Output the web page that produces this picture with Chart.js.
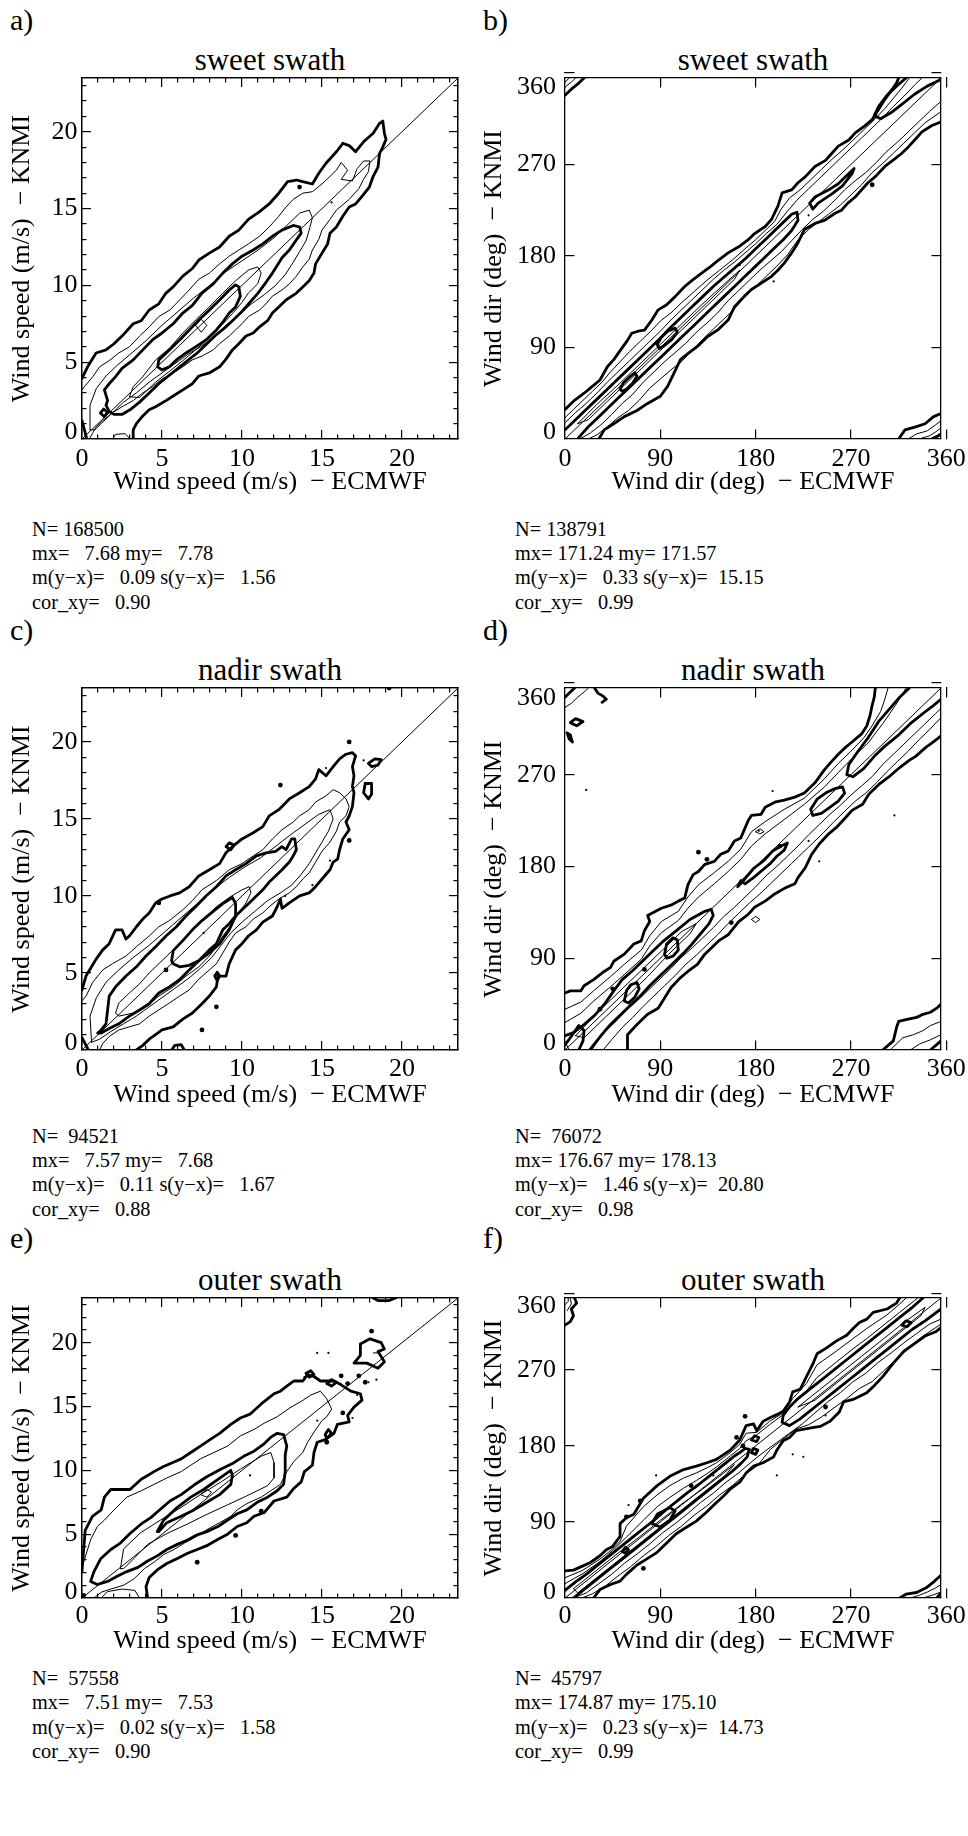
<!DOCTYPE html>
<html><head><meta charset="utf-8"><title>KNMI vs ECMWF wind contours</title>
<script src="https://cdn.jsdelivr.net/npm/chart.js"></script>
<style>
html,body{margin:0;padding:0;background:#fff;}
body{width:968px;height:1836px;position:relative;overflow:hidden;font-family:'Liberation Serif','Times New Roman',Times,serif;color:#000;}
canvas{position:absolute;}
.plbl,.ptitle,.stats{position:absolute;white-space:pre;}
.plbl{font-size:30px;line-height:30px;}
.ptitle{font-size:31px;line-height:31px;text-align:center;}
.stats{font-size:20.3px;}
</style></head><body>
<script>
const FONT = "'Liberation Serif','Times New Roman',Times,serif";

// ---------- tick values and labels ----------
const speedMajor = [0, 5, 10, 15, 20];
const speedMinor = [1,2,3,4,6,7,8,9,11,12,13,14,16,17,18,19,21,22,23];
const speedXLabels = ['0','5','10','15','20'];
const speedYTicks = [0.45, 5, 10, 15, 20];
const speedYLabels = ['0','5','10','15','20'];
const speedYMarks = [0,1,1,1,1];
const dirXTicks = [0, 90, 180, 270, 360];
const dirXLabels = ['0','90','180','270','360'];
const dirYTicks = [7, 90, 180, 270, 345.5, 360];
const dirYLabels = ['0','90','180','270','360',''];
const dirYMarks = [0,1,1,1,0,1];
const dirMarks = [90, 180, 270, 360];
const speedDiag = [[0,0],[23.5,23.5]];
const dirDiag = [[0,0],[355,355]];

// ---------- panel a : sweet swath, speed ----------
const a_c1 = [[0,3.95],[0.35,4.7],[0.88,5.6],[1.5,5.8],[2,6.2],[2.5,6.7],[3.2,7.5],[3.7,7.7],[4.2,8.4],[4.8,8.8],[5.25,9.5],[5.7,9.9],[6.3,10.6],[6.9,11.1],[7.3,11.65],[7.96,12.1],[8.6,12.5],[9.2,13.2],[9.8,13.6],[10.4,14.3],[11.1,14.8],[11.7,15.3],[12.3,16],[12.85,16.75],[13.4,16.86],[13.8,16.75],[14.4,16.6],[14.8,17.3],[15.25,17.95],[15.9,18.7],[16.3,19.25],[16.7,19.1],[17.1,18.7],[17.65,19.4],[18.2,19.9],[18.6,20.55],[18.8,20.7],[18.9,19.9],[19,19.5],[18.8,19],[18.6,18.6],[18.5,17.7],[18.2,17.1],[17.96,16.4],[17.5,15.8],[17.1,15.3],[16.7,15.1],[16.3,14.5],[15.9,13.8],[15.5,13.4],[15.35,12.7],[15,12.1],[14.6,11.4],[14.5,10.8],[14.2,10.3],[13.8,9.9],[13.4,9.5],[12.75,9.05],[12.3,8.6],[11.9,8.2],[11.6,7.7],[11.1,7.3],[10.7,6.9],[10.25,6.7],[9.8,6.2],[9.4,5.8],[9,5.2],[8.6,4.7],[7.96,4.3],[7.3,4.1],[6.9,3.6],[6.3,3.2],[5.7,2.8],[5.25,2.5],[4.6,2.1],[4.2,1.9],[3.8,1.5],[3.4,1],[3.2,0.6],[3.2,0]];
const a_c2 = [[0,3.2],[0.14,3.4],[0.67,4.05],[1.1,4.7],[1.7,5.1],[2.3,5.6],[2.96,6],[3.6,6.7],[4.2,7.3],[4.8,7.97],[5.5,8.4],[6.1,9.05],[6.7,9.7],[7.3,10.4],[7.96,10.8],[8.6,11.4],[9.2,11.9],[9.8,12.3],[10.4,12.7],[11.1,13.2],[11.7,13.8],[12.3,14.5],[12.75,15.1],[13.2,15.6],[13.8,16],[14.4,16.1],[15,16.6],[15.5,17.1],[15.9,17.5],[16.2,18],[16.6,17.5],[16.2,16.9],[16.9,16.8],[17.2,17.6],[17.6,18.1],[18,18.1],[17.9,17.4],[17.6,16.9],[17.3,16.3],[16.7,15.6],[15.9,14.9],[15.5,14.3],[15,13.6],[14.8,13],[14.4,12.3],[14.2,11.7],[13.8,11.2],[13.4,10.6],[12.96,10.1],[12.5,9.7],[11.9,9.3],[11.5,8.8],[11.1,8.4],[10.4,7.97],[10,7.5],[9.6,7.1],[9.2,6.7],[8.6,6.2],[8.2,5.8],[7.5,5.4],[6.9,5.15],[6.3,4.7],[5.7,4.3],[5,3.9],[4.4,3.4],[3.8,3],[3.2,2.5],[2.5,2.1],[1.9,1.7],[1.3,1.2],[0.9,0.8],[0.67,0.4],[0.46,0]];
const a_c2b = [[0.5,0.6],[0.5,2.2],[0.9,3.3],[1.5,4.1],[2.2,4.8],[3,5.5],[4,6.4],[5,7.4],[6,8.3],[7,9.2],[8,10],[9,10.9],[10,11.6],[11,12.3],[12,13.1],[12.8,13.9],[13.6,14.7],[14.2,14.9],[14.4,14.4],[14.2,13.6],[14,12.9],[13.6,12.2],[13.2,11.5],[12.7,10.7],[12.1,10],[11.4,9.4],[10.6,8.8],[9.8,8.1],[9,7.4],[8.2,6.6],[7.4,6],[6.6,5.5],[5.8,4.9],[5,4.3],[4.2,3.7],[3.4,3],[2.6,2.4],[1.9,1.7],[1.3,1.1],[0.8,0.6],[0.5,0.6]];
const a_c3 = [[1.6,2.5],[1.4,3.2],[1.7,3.6],[2.1,4.06],[2.5,4.6],[3.2,5.15],[3.8,5.8],[4.4,6.45],[5,6.9],[5.7,7.5],[6.3,8.2],[6.9,8.7],[7.5,9.5],[8.2,10.1],[8.8,10.8],[9.4,11.4],[10,11.9],[10.7,12.3],[11.3,12.7],[11.9,13.2],[12.5,13.6],[13.2,13.9],[13.6,13.8],[13.7,13.4],[13.4,12.96],[12.96,12.3],[12.5,11.8],[12.2,11.3],[11.9,10.8],[11.5,10.2],[11,9.5],[10.5,8.9],[10,8.3],[9.5,7.8],[9,7.3],[8.4,6.8],[7.8,6.2],[7.2,5.6],[6.6,5.1],[6,4.6],[5.4,4.1],[4.8,3.6],[4.2,3],[3.6,2.4],[3,1.9],[2.5,1.6],[2,1.6],[1.7,1.8],[1.5,2.2],[1.6,2.5]];
const a_c4 = [[2.96,2.75],[3.2,3.4],[3.8,4.06],[4.6,5.15],[5.46,5.9],[6.3,6.9],[7.1,7.75],[7.96,8.6],[8.8,9.5],[9.6,10.3],[10.4,11],[10.98,11.2],[11.2,10.8],[10.98,10.1],[10.4,9.5],[10,8.9],[9.6,8.4],[9,7.7],[8.4,7.1],[7.75,6.4],[7.1,5.8],[6.3,5.1],[5.46,4.4],[4.6,3.7],[4,3.1],[3.6,2.7],[2.96,2.75]];
const a_c5 = [[4.73,4.7],[4.8,5.15],[5.46,5.8],[6.1,6.45],[6.7,7.1],[7.3,7.75],[7.96,8.4],[8.6,9.05],[9.2,9.7],[9.6,10.03],[9.8,9.9],[9.9,9.3],[9.6,8.6],[9.2,8.2],[8.8,7.6],[8.4,7.1],[7.75,6.45],[7.1,6],[6.5,5.6],[5.9,5.15],[5.46,4.7],[5,4.5],[4.73,4.7]];
const a_c6 = [[7.1,7.4],[7.45,7.8],[7.8,7.4],[7.45,6.95],[7.1,7.4]];
const a_k1 = [[1.15,1.7],[1.35,1.95],[1.6,1.75],[1.4,1.45],[1.15,1.7]];
const a_k2 = [[0,1.2],[0.15,0.6],[0.3,0]];
const a_t1 = [[1.9,0],[2.1,0.3],[2.7,0.35],[3,0]];
const a_dots = [[13.6,16.4]];
const a_tdots = [[15.6,15.4]];

// ---------- panel c : nadir swath, speed ----------
const c_c1 = [[0,3.9],[0.25,4.8],[0.88,5.9],[1.3,6.5],[1.7,6.9],[2.1,7.8],[2.5,7.8],[2.75,7.2],[2.96,7.4],[3.4,8],[3.8,8.5],[4.2,8.9],[4.6,9.55],[5,9.8],[5.5,10],[6.1,10.2],[6.7,10.6],[7.3,11.3],[7.96,11.7],[8.6,12.1],[9,12.8],[9.4,13.2],[10,13.7],[10.7,14.1],[11.3,14.5],[11.7,15.2],[12.3,15.6],[12.96,16.3],[13.6,16.7],[14.2,17.1],[14.6,17.6],[14.8,18.2],[15.25,17.8],[15.7,18.4],[16.1,18.9],[16.5,19.2],[16.9,19.3],[17.1,19.1],[16.9,18.4],[17,17.8],[16.9,17.1],[17,16.7],[16.9,15.8],[16.7,15.2],[16.5,14.8],[16.7,14.3],[16.3,13.7],[16.1,13],[15.98,12.4],[15.7,12.2],[15.5,11.7],[15,11.1],[14.6,10.6],[14.2,10.2],[13.6,10],[12.96,9.55],[12.5,9.2],[12.4,9.8],[12.2,9.3],[11.9,8.7],[11.3,8.3],[10.9,7.8],[10.4,7.4],[10,6.9],[9.6,6.5],[9.2,5.6],[9,4.8],[8.5,4.8],[8.4,4.1],[7.96,3.5],[7.5,3],[6.9,2.4],[6.3,2],[5.7,1.5],[5,1.3],[4.6,1],[4.2,0.7],[3.8,0.3],[3.4,0]];
const c_c2 = [[0,3.2],[0.25,3.5],[0.67,4.4],[1.3,5.2],[1.9,5.6],[2.75,6.1],[3.4,6.7],[4.2,7.4],[4.8,8],[5.46,8.4],[6.3,9.1],[6.9,9.7],[7.5,10.4],[8.4,11],[9.2,11.7],[10,12.1],[10.7,12.6],[11.3,13],[11.9,13.7],[12.5,14.3],[13.2,14.8],[13.6,15.2],[14.2,15.6],[14.6,16.1],[15.25,16.5],[15.7,16.9],[16.1,16.7],[16.5,16.3],[16.7,15.8],[16.5,15.2],[16.1,14.8],[15.9,14.2],[15.5,13.5],[15,12.9],[14.6,12.2],[14.2,11.5],[13.8,11.1],[13.4,10.6],[12.96,10.2],[12.3,9.8],[11.7,9.3],[11.3,8.9],[10.7,8.5],[10.25,8],[9.6,7.6],[9.2,7],[8.8,6.3],[8.4,5.6],[7.96,5.2],[7.3,4.6],[6.7,3.9],[6.1,3.5],[5.46,3.05],[4.8,2.6],[4.2,2.2],[3.6,1.7],[2.96,1.5],[2.3,1.3],[1.7,0.87],[1.3,0.43],[1.1,0]];
const c_c2b = [[0.6,0.5],[0.5,2.2],[0.9,3.4],[1.5,4.4],[2.3,5.2],[3.2,6],[4.2,6.8],[5.2,7.7],[6.2,8.6],[7.2,9.5],[8.2,10.4],[9.2,11.2],[10.2,11.9],[11.2,12.5],[12.2,13.3],[13.2,14.1],[14,14.7],[14.8,15.3],[15.5,15.6],[15.7,15],[15.4,14.2],[15,13.5],[14.6,12.8],[14.2,12.1],[13.7,11.4],[13.1,10.7],[12.4,10.2],[11.6,9.7],[10.8,9],[10,8.3],[9.3,7.6],[8.7,6.8],[8.1,6],[7.4,5.3],[6.6,4.6],[5.8,4],[5,3.4],[4.2,2.8],[3.4,2.2],[2.6,1.7],[1.8,1.2],[1.1,0.7],[0.6,0.5]];
const c_c3 = [[0.98,1.1],[1.2,1.3],[1.5,1.7],[1.6,2.6],[1.7,3.5],[2.1,4.1],[2.75,4.8],[3.4,5.4],[4,6.1],[4.6,6.7],[5.25,7.4],[5.9,8],[6.5,8.7],[7.1,9.3],[7.75,10],[8.4,10.6],[9,11.3],[9.6,11.7],[10.25,12.1],[10.9,12.6],[11.5,12.8],[12.1,12.9],[12.5,13.2],[12.75,13],[13.1,13.7],[13.3,13.7],[13.4,13],[13.2,12.6],[12.96,12.2],[12.5,11.7],[12.1,11.3],[11.7,10.9],[11.3,10.4],[10.9,10],[10.45,9.55],[10,9.1],[9.6,8.7],[9.2,8.2],[8.8,7.8],[8.4,6.9],[7.96,6.5],[7.3,5.8],[6.7,5.2],[6.1,4.56],[5.46,4.1],[4.8,3.7],[4.2,3],[3.6,2.6],[2.96,2.2],[2.3,1.7],[1.7,1.4],[1.2,1.1],[0.98,1.1]];
const c_c4 = [[2.1,2.4],[2.3,3.05],[2.96,3.7],[3.6,4.3],[4.2,5],[5,5.8],[5.9,6.7],[6.7,7.6],[7.5,8.4],[8.4,9.3],[9.2,9.9],[10,10.4],[10.45,10.6],[10.56,10.2],[10.25,9.55],[9.8,8.9],[9.4,8.2],[8.8,7.4],[8.4,6.7],[7.96,6.1],[7.3,5.4],[6.5,4.8],[5.7,4.1],[4.8,3.5],[4,2.8],[3.2,2.4],[2.3,2.2],[2.1,2.4]];
const c_c5 = [[5.6,5.8],[5.7,6.45],[6.3,7.1],[6.9,7.8],[7.5,8.4],[8.2,9],[8.8,9.5],[9.4,9.9],[9.6,9.5],[9.6,8.7],[9.2,7.8],[8.6,6.9],[7.96,6.3],[7.3,5.8],[6.7,5.5],[6.1,5.4],[5.7,5.6],[5.6,5.8]];
const c_k1 = [[9,13.2],[9.2,13.45],[9.5,13.3],[9.3,13],[9,13.2]];
const c_k2 = [[17.9,18.6],[18.3,18.9],[18.7,18.85],[18.5,18.5],[18.1,18.4],[17.9,18.6]];
const c_k3 = [[17.7,17.3],[18.1,17.3],[18.1,16.6],[17.9,16.3],[17.6,16.7],[17.7,17.3]];
const c_k4 = [[8.3,4.8],[8.45,5.05],[8.6,4.8],[8.45,4.5],[8.3,4.8]];
const c_k5 = [[5.6,0],[5.8,0.3],[6.2,0.35],[6.4,0]];
const c_k6 = [[0,0.8],[0.3,0.2],[0.4,0]];
const c_dots = [[16.7,20],[12.4,17.2],[4.8,9.55],[5.25,5.2],[7.5,1.3],[16.7,13.6],[19.2,23.5],[8.4,2.8]];
const c_tdots = [[14.4,10.7],[12.7,10],[15.5,12.3],[15.25,18.3],[17.6,18.8],[7.6,7.6]];

// ---------- panel e : outer swath, speed ----------
const e_c1 = [[0,2.1],[0.2,5.3],[0.65,6.4],[1.2,6.9],[1.4,7.9],[1.8,8.5],[3,8.5],[3.7,9.3],[4.1,9.6],[4.5,9.9],[5.1,10.3],[5.75,10.65],[6.2,10.9],[6.8,11.4],[7.4,11.9],[8,12.4],[8.6,12.9],[9.3,13.6],[9.9,14.1],[10.5,14.4],[11.2,15.2],[11.6,15.6],[12,16],[12.4,16.2],[12.8,16.6],[13.25,17],[13.8,17],[14.1,17.5],[14.5,17.35],[14.9,17],[15.75,17],[16.2,16.7],[16.8,16.2],[17.4,16],[17.5,15.5],[17,14.95],[16.6,14.3],[16.7,13.8],[15.96,13.6],[15.75,12.9],[15.2,12.4],[14.7,12.2],[14.5,11.4],[14.4,10.4],[13.9,9.9],[13.7,9.1],[13.25,8.6],[12.8,7.9],[12,7.6],[11.4,6.7],[10.75,6.4],[10.3,5.9],[9.7,5.6],[9.1,5],[8.5,4.6],[7.8,4.1],[7.2,3.8],[6.6,3.5],[5.96,3.1],[5.3,2.7],[4.7,2.2],[4.2,1.6],[4,0.9],[4.1,0]];
const e_c2 = [[0.1,2.8],[0.55,4.6],[0.96,5.6],[1.4,6.1],[2,6.9],[2.8,7.9],[3.7,8.4],[4.5,8.9],[5.3,9.4],[6.2,9.9],[6.8,10.4],[7.4,10.9],[8.25,11.4],[9.1,11.9],[9.9,12.7],[10.75,13.2],[11.4,13.7],[12.2,14.2],[13,14.9],[13.7,15.4],[14.3,15.9],[14.9,16.2],[15.3,15.6],[15.6,14.8],[15.3,14.2],[15,13.9],[14.5,13],[14.1,12.2],[13.8,11.4],[13.25,10.7],[12.8,9.9],[12.4,8.9],[11.8,8.4],[11.2,7.9],[10.3,7.4],[9.7,6.9],[9.3,6.4],[8.6,5.9],[7.8,5.35],[7.2,4.85],[6.4,4.3],[5.75,3.8],[5.1,3.4],[4.5,2.8],[3.9,2.3],[3.25,1.5],[2.6,1],[1.8,0.7],[1.2,0.45],[0.75,0]];
const e_c3 = [[0.54,1.3],[0.75,2.07],[1.17,3.08],[1.8,3.8],[2.4,4.3],[3,5.05],[3.7,5.8],[4.3,6.3],[4.9,6.95],[5.5,7.6],[6.2,8.1],[7,8.85],[7.8,9.5],[8.7,10.1],[9.5,10.6],[10.1,11.1],[10.75,11.5],[11.4,12.1],[11.8,12.6],[12.2,12.9],[12.6,12.8],[12.8,11.9],[12.7,11.2],[12.7,9.9],[12.6,8.9],[12.2,8.4],[11.6,7.9],[10.95,7.5],[10.3,6.9],[9.7,6.6],[9.1,6.1],[8.5,5.6],[7.8,5.2],[7.2,4.95],[6.6,4.55],[5.96,4.2],[5.3,3.8],[4.7,3.3],[4.1,2.9],[3.5,2.4],[2.8,2.07],[2.2,1.7],[1.6,1.3],[0.96,1.06],[0.54,1.3]];
const e_c4 = [[2.4,2.3],[2.6,3.85],[3.65,5.1],[4.9,6.1],[6.2,7.1],[7.4,8.1],[8.7,9.1],[9.9,10.1],[11.2,11.1],[11.8,11.4],[12,10.6],[12,9.4],[11.6,8.8],[10.3,8],[9.1,7.3],[7.8,6.55],[6.6,5.8],[5.3,5.05],[4.1,4.2],[3.25,3.1],[2.6,2.3],[2.4,2.3]];
const e_c5 = [[4.7,5.2],[5.1,6.1],[5.96,7.1],[6.8,7.9],[7.6,8.5],[8.5,9.3],[9.3,10],[9.4,9.6],[9.3,8.9],[8.6,8.1],[7.8,7.5],[7,6.9],[6.2,6.4],[5.3,5.9],[4.8,5.2]];
const e_c6 = [[7.4,8.1],[7.8,8.5],[8.1,8.3],[7.8,7.9],[7.4,8.1]];
const e_k1 = [[17.4,19.9],[18,20.3],[18.7,20],[18.9,19.5],[18.5,19.3],[18.9,18.5],[18.5,18],[17.8,18.4],[17,18.4],[17.4,19],[17.4,19.9]];
const e_k2 = [[18.2,23.5],[18.5,23.3],[19.2,23.3],[19.6,23.5]];
const e_k3 = [[14,17.6],[14.3,17.8],[14.5,17.5],[14.2,17.3],[14,17.6]];
const e_k4 = [[15.3,16.8],[15.6,17.1],[15.9,16.9],[15.6,16.6],[15.3,16.8]];
const e_k5 = [[15.2,12.8],[15.4,13.2],[15.6,12.9],[15.3,12.5],[15.2,12.8]];
const e_t1 = [[18.2,19.2],[18.6,19.2]];
const e_t2 = [[1.2,0],[1.6,0.5],[2.5,0.7],[3.3,0.6],[3.6,0]];
const e_dots = [[18.1,20.9],[16.2,17.4],[16.6,16.8],[17.3,17.4],[17.7,16.9],[9.6,4.9],[11.2,6.8],[7.2,2.8],[16.3,14.5],[15.3,12.2],[0.1,0.2]];
const e_tdots = [[13.9,17.3],[14.7,19.2],[15.4,19.2],[17.9,16.9],[18.4,17.1],[16.9,14.1],[10.5,9.6],[17.2,15.9],[14.7,13.9]];

// ---------- panel b : sweet swath, direction ----------
const b_outU = [[0,29],[9,38],[18,45],[25,51],[33,58],[40,71],[46,78],[50,84],[59,97],[63,104],[69,106],[75,107],[82,117],[88,127],[96,132],[104,140],[113,150],[120,156],[129,163],[138,170],[145,176],[154,183],[164,189],[173,196],[179,202],[189,209],[195,216],[201,229],[205,242],[214,245],[220,252],[227,258],[236,268],[246,274],[252,281],[258,288],[268,294],[274,301],[283,308],[290,314],[296,324],[302,334],[309,344],[313,350],[315,355]];
const b_thU1 = [[0,21],[8,29],[16,37],[26,47],[35,56],[43,66],[52,76],[61,86],[71,96],[81,106],[90,116],[100,124],[110,134],[122,145],[134,156],[146,166],[158,176],[170,187],[180,196],[190,206],[198,214],[204,226],[212,237],[222,245],[232,255],[242,265],[252,275],[262,284],[272,294],[282,304],[292,314],[302,325],[310,335],[318,345],[325,355]];
const b_thU2 = [[0,16],[10,26],[20,35],[30,45],[40,56],[50,66],[60,76],[70,86],[80,96],[90,106],[100,117],[110,127],[120,137],[130,147],[140,157],[150,166],[160,174],[170,183],[180,192],[190,202],[200,211],[210,224],[220,236],[230,246],[240,256],[250,266],[260,276],[270,286],[280,296],[290,306],[300,316],[310,327],[320,337],[330,348],[337,355]];
const b_in3 = [[0,9],[8,17],[18,27],[28,37],[38,47],[48,57],[58,67],[68,77],[78,87],[88,97],[98,108],[108,118],[120,130],[130,140],[140,150],[150,159],[160,168],[170,177],[180,187],[190,197],[200,207],[208,215],[214,221],[219,223],[220,215],[214,205],[206,196],[197,187],[188,178],[180,170],[170,160],[160,150],[150,140],[140,130],[130,120],[120,110],[110,100],[100,90],[90,80],[80,70],[70,60],[60,50],[50,40],[40,30],[30,20],[22,12],[16,5],[12,0]];
const b_l5a = [[52,49],[55,55],[61,61],[66,65],[68,62],[64,55],[58,49],[54,47],[52,49]];
const b_l5b = [[87,93],[91,100],[97,106],[104,109],[106,105],[101,98],[94,92],[89,89],[87,93]];
const b_l3c = [[231,232],[236,238],[249,245],[258,251],[268,261],[273,266],[271,261],[262,249],[252,241],[239,232],[234,226],[231,232]];
const b_in3d = [[322,355],[314,348],[304,338],[296,327],[292,318],[298,315],[308,321],[318,329],[330,339],[342,347],[352,352],[355,354]];
const b_thL1 = [[14,0],[24,6],[34,14],[44,24],[54,35],[64,44],[74,56],[84,66],[94,76],[104,85],[114,94],[124,105],[134,114],[144,124],[154,136],[164,146],[174,156],[184,166],[194,175],[204,184],[214,195],[224,206],[234,216],[244,224],[254,234],[264,245],[274,254],[284,262],[294,272],[304,283],[314,292],[324,302],[334,312],[344,322],[355,332]];
const b_thL2 = [[22,0],[30,4],[40,12],[50,21],[60,28],[70,38],[80,50],[90,59],[100,68],[110,76],[120,87],[130,98],[140,108],[150,118],[160,128],[170,140],[180,150],[190,160],[200,170],[210,181],[220,196],[230,206],[240,214],[250,222],[260,230],[270,240],[280,250],[290,262],[300,271],[310,281],[320,291],[330,301],[340,311],[355,322]];
const b_outL = [[32,0],[37,9],[46,15],[56,22],[68,28],[78,35],[90,42],[97,52],[103,65],[109,78],[116,84],[125,91],[135,101],[144,107],[154,117],[160,130],[169,140],[176,147],[185,153],[195,160],[201,166],[207,173],[214,183],[220,193],[226,206],[236,212],[245,215],[255,222],[261,225],[267,232],[274,238],[280,245],[286,252],[293,258],[302,268],[312,276],[318,281],[324,287],[331,295],[337,302],[346,308],[353,311],[355,312]];
const b_t4a = [[12,15],[30,34],[50,53],[70,73],[90,93],[110,113],[130,133],[150,152],[165,166],[160,157],[140,137],[120,117],[100,97],[80,77],[60,57],[40,37],[22,19],[12,15]];
const b_tlK = [[0,338],[6,344],[13,350],[18,355]];
const b_tlT1 = [[0,346],[6,351],[10,355]];
const b_tlT2 = [[0,351],[4,355]];
const b_brK1 = [[315,0],[321,9],[331,12],[340,15],[348,22],[355,25]];
const b_brK2 = [[346,0],[352,3],[355,5]];
const b_brT1 = [[324,0],[332,5],[342,8],[350,14],[355,18]];
const b_brT2 = [[334,0],[344,3],[350,7],[355,11]];
const b_dots = [[290,250]];
const b_tdots = [[165,171],[197,155],[230,220]];

// ---------- panel d : nadir swath, direction ----------
const d_outU = [[0,56],[5,58],[15,58],[18,63],[27,69],[37,77],[43,81],[46,87],[56,94],[65,104],[72,107],[75,117],[80,126],[78,132],[91,139],[100,142],[107,146],[113,149],[116,162],[121,172],[126,175],[132,182],[141,185],[147,192],[154,195],[160,205],[166,208],[173,225],[176,230],[185,231],[189,238],[198,243],[207,245],[217,248],[226,252],[236,262],[245,275],[251,282],[258,290],[264,296],[271,302],[280,310],[285,318],[288,328],[290,338],[292,346],[293,355]];
const d_thU1 = [[0,40],[15,47],[27,58],[43,72],[56,84],[72,98],[80,112],[91,126],[107,136],[116,150],[126,162],[141,174],[154,185],[166,197],[176,214],[189,224],[207,236],[226,247],[245,266],[258,281],[271,294],[282,306],[290,318],[298,332],[302,344],[305,355]];
const d_thU2 = [[0,27],[15,36],[27,48],[43,62],[56,74],[72,89],[80,102],[91,115],[107,127],[116,139],[126,150],[141,163],[154,175],[166,187],[176,200],[189,212],[207,226],[226,241],[245,258],[258,272],[271,286],[287,302],[294,312],[300,320],[312,338],[322,355]];
const d_in3 = [[0,14],[8,17],[18,25],[28,34],[38,46],[46,58],[54,69],[64,78],[74,88],[82,96],[92,106],[104,116],[118,128],[132,136],[138,138],[140,132],[136,124],[128,114],[120,104],[112,95],[104,87],[96,79],[88,71],[80,63],[72,54],[62,44],[52,34],[42,24],[34,14],[28,6],[24,0]];
const d_l5a = [[56,48],[58,58],[62,64],[68,66],[70,60],[66,52],[60,46],[56,48]];
const d_l5b = [[94,94],[96,104],[102,110],[106,108],[107,98],[102,92],[96,90],[94,94]];
const d_l3b = [[166,166],[163,160],[170,168],[178,178],[188,186],[196,195],[204,200],[210,203],[207,196],[200,190],[194,183],[186,176],[178,169],[170,163],[166,166]];
const d_l3c = [[232,236],[238,246],[246,252],[254,256],[262,258],[264,252],[258,244],[250,238],[242,232],[234,230],[232,236]];
const d_in3d = [[325,355],[316,346],[306,334],[296,322],[286,306],[276,292],[268,280],[266,270],[272,268],[282,276],[292,288],[302,298],[314,308],[326,320],[338,330],[348,338],[355,344]];
const d_thL1 = [[22,0],[30,10],[40,20],[50,30],[60,41],[70,50],[80,60],[90,70],[100,80],[110,91],[120,100],[130,110],[140,120],[150,131],[160,140],[170,150],[180,160],[190,171],[200,180],[210,190],[220,200],[230,211],[240,221],[250,231],[260,240],[270,250],[280,259],[290,268],[300,280],[310,290],[320,300],[330,310],[340,320],[350,330],[355,335]];
const d_thL2 = [[36,0],[44,10],[54,22],[64,32],[74,43],[84,53],[94,63],[104,73],[114,84],[124,93],[134,103],[144,113],[154,124],[164,134],[174,144],[184,153],[194,163],[204,173],[214,183],[224,193],[234,203],[244,213],[254,224],[264,234],[274,244],[284,252],[294,262],[304,273],[314,283],[324,293],[334,304],[344,314],[355,326]];
const d_outL = [[59,0],[59,15],[68,25],[78,35],[88,41],[94,51],[100,61],[109,71],[116,77],[125,84],[132,94],[145,107],[154,113],[164,126],[173,133],[179,140],[189,146],[198,153],[208,159],[217,163],[220,169],[227,179],[233,192],[240,202],[249,212],[256,218],[265,228],[271,235],[281,241],[287,251],[297,261],[306,268],[316,277],[325,284],[331,288],[341,297],[350,304],[355,308]];
const d_t4a = [[10,14],[30,36],[50,56],[70,76],[90,96],[110,116],[124,124],[118,114],[98,94],[78,72],[58,52],[38,32],[18,12],[10,14]];
const d_t4b = [[180,214],[184,217],[188,214],[184,212],[180,214]];
const d_t4c = [[176,128],[180,131],[184,128],[180,125],[176,128]];
const d_tlK1 = [[0,346],[5,351],[9,355]];
const d_tlK2 = [[28,355],[31,350],[36,347],[39,344],[35,341]];
const d_tlK3 = [[5,321],[10,325],[17,322],[11,318],[5,321]];
const d_tlK4 = [[2,311],[4,305],[7,302],[5,309],[2,311]];
const d_tlT1 = [[0,336],[6,340],[12,346],[18,351],[22,355]];
const d_brK1 = [[300,0],[310,9],[313,22],[315,28],[323,30],[332,32],[338,35],[345,37],[351,41],[355,45]];
const d_brK2 = [[345,0],[355,9]];
const d_brT1 = [[307,0],[319,12],[329,15],[338,19],[345,24],[355,28]];
const d_brT2 = [[326,0],[335,6],[345,10],[355,15]];
const d_blK = [[0,5],[5,12],[13,24],[18,19],[17,9],[13,0]];
const d_blT = [[0,8],[4,0]];
const d_dots = [[75,79],[33,40],[134,187],[203,200],[126,194],[157,125],[45,60]];
const d_tdots = [[196,254],[311,230],[230,205],[183,215],[240,185],[20,255],[60,42]];

// ---------- panel f : outer swath, direction ----------
const f_outU = [[0,32],[8,33],[17,38],[24,42],[33,50],[39,57],[45,61],[52,73],[52,88],[58,95],[65,99],[74,118],[87,133],[99,144],[112,152],[124,156],[134,160],[143,164],[156,175],[165,187],[171,204],[178,206],[181,198],[187,209],[193,213],[200,217],[206,221],[212,232],[215,244],[222,247],[228,262],[234,277],[238,289],[247,296],[256,304],[266,311],[272,319],[278,326],[285,330],[291,338],[304,342],[313,349],[316,355]];
const f_thU1 = [[0,24],[17,33],[33,46],[45,58],[52,67],[58,85],[74,108],[87,122],[99,133],[112,142],[124,148],[134,154],[143,160],[156,172],[165,182],[171,195],[181,196],[193,209],[206,219],[215,236],[228,254],[238,276],[256,292],[272,307],[285,319],[304,335],[316,348],[322,355]];
const f_thU2 = [[0,17],[17,29],[33,43],[45,56],[58,72],[74,92],[87,108],[99,119],[112,130],[124,139],[134,147],[143,155],[156,168],[165,177],[171,186],[181,193],[193,205],[206,217],[215,229],[228,245],[238,261],[256,279],[272,295],[285,307],[304,326],[316,338],[330,352],[333,355]];
const f_in3 = [[0,9],[10,19],[20,28],[32,40],[44,52],[56,64],[66,74],[76,84],[86,94],[96,105],[106,115],[116,125],[126,134],[136,144],[146,154],[154,162],[160,168],[166,173],[170,177],[174,176],[172,167],[166,159],[158,150],[150,142],[142,134],[132,124],[122,114],[112,104],[102,94],[92,84],[82,74],[72,64],[62,54],[52,44],[42,34],[32,24],[22,14],[14,6],[8,0]];
const f_in3b = [[338,355],[328,344],[316,332],[304,320],[292,308],[280,296],[268,284],[256,272],[244,260],[232,248],[220,236],[212,226],[206,216],[205,208],[212,204],[222,212],[232,222],[244,234],[256,246],[268,258],[280,270],[292,282],[304,294],[316,306],[328,318],[340,328],[355,342]];
const f_thL1 = [[8,0],[20,6],[32,17],[44,28],[56,41],[68,52],[80,64],[92,77],[104,88],[116,100],[128,113],[140,124],[152,137],[164,148],[176,161],[188,173],[200,184],[212,195],[224,206],[236,219],[248,232],[260,243],[272,256],[284,266],[296,279],[308,290],[320,302],[332,313],[344,324],[355,330]];
const f_thL2 = [[16,0],[26,5],[38,14],[50,26],[62,37],[74,50],[86,61],[98,74],[110,85],[122,98],[134,109],[146,122],[158,133],[170,146],[182,157],[194,176],[206,188],[218,200],[230,205],[242,214],[254,225],[266,236],[278,248],[290,256],[302,270],[314,284],[326,298],[338,310],[350,320],[355,324]];
const f_outL = [[27,0],[33,10],[43,16],[52,20],[58,28],[68,39],[77,46],[87,54],[96,65],[105,76],[115,84],[124,91],[134,102],[143,113],[150,121],[156,129],[165,137],[171,148],[178,156],[187,160],[197,167],[200,175],[206,186],[212,190],[218,198],[231,201],[241,203],[250,209],[259,220],[263,232],[272,235],[285,243],[291,250],[300,262],[310,278],[320,292],[329,300],[340,310],[350,315],[355,320]];
const f_l5a = [[82,88],[87,99],[99,107],[104,103],[99,92],[90,84],[82,88]];
const f_l5b = [[54,55],[57,60],[60,57],[57,53],[54,55]];
const f_l5c = [[176,187],[179,192],[183,190],[181,185],[176,187]];
const f_l5d = [[176,172],[178,177],[182,175],[180,170],[176,172]];
const f_l5e = [[318,323],[322,328],[327,326],[323,321],[318,323]];
const f_t4a = [[8,11],[30,33],[50,53],[70,72],[90,92],[110,111],[130,129],[150,148],[160,158],[152,146],[132,126],[112,106],[92,86],[72,66],[52,46],[32,26],[12,6],[8,11]];
const f_t4b = [[220,226],[240,246],[260,266],[280,286],[300,306],[320,326],[340,344],[336,334],[316,314],[296,294],[276,274],[256,254],[236,234],[220,226]];
const f_tlK = [[0,323],[5,327],[8,334],[6,342],[11,349],[9,355]];
const f_tlT1 = [[2,340],[6,348],[5,355]];
const f_tlT2 = [[0,347],[3,351],[3,355]];
const f_brK1 = [[316,0],[322,4.5],[332,6.5],[341,12],[349,20],[355,27]];
const f_brK2 = [[351,0],[355,6]];
const f_brT1 = [[326,0],[334,3],[342,7],[350,12],[355,16]];
const f_brT2 = [[338,0],[346,3],[355,7]];
const f_dots = [[170,215],[71,115],[58,96],[74,35],[119,133],[168,180],[246,226],[162,190]];
const f_tdots = [[86,145],[60,110],[230,201],[246,216],[225,167],[140,145],[200,145],[215,170]];

// ---------- statistics texts ----------
const a_stats = ['N= 168500','mx=   7.68 my=   7.78','m(y\u2212x)=   0.09 s(y\u2212x)=   1.56','cor_xy=   0.90'];
const b_stats = ['N= 138791','mx= 171.24 my= 171.57','m(y\u2212x)=   0.33 s(y\u2212x)=  15.15','cor_xy=   0.99'];
const c_stats = ['N=  94521','mx=   7.57 my=   7.68','m(y\u2212x)=   0.11 s(y\u2212x)=   1.67','cor_xy=   0.88'];
const d_stats = ['N=  76072','mx= 176.67 my= 178.13','m(y\u2212x)=   1.46 s(y\u2212x)=  20.80','cor_xy=   0.98'];
const e_stats = ['N=  57558','mx=   7.51 my=   7.53','m(y\u2212x)=   0.02 s(y\u2212x)=   1.58','cor_xy=   0.90'];
const f_stats = ['N=  45797','mx= 174.87 my= 175.10','m(y\u2212x)=   0.23 s(y\u2212x)=  14.73','cor_xy=   0.99'];

const panels = [
  {lbl:'a)', title:'sweet swath', col:0, row:0, kind:'speed', stats:a_stats,
   thick:[a_c1,a_c3,a_c5,a_k1,a_k2], thin:[a_c2,a_c2b,a_c4,a_c6,a_t1], dots:a_dots, tdots:a_tdots},
  {lbl:'b)', title:'sweet swath', col:1, row:0, kind:'dir', stats:b_stats,
   thick:[b_outU,b_in3,b_l5a,b_l5b,b_l3c,b_in3d,b_outL,b_tlK,b_brK1,b_brK2],
   thin:[b_thU1,b_thU2,b_thL1,b_thL2,b_t4a,b_tlT1,b_tlT2,b_brT1,b_brT2], dots:b_dots, tdots:b_tdots},
  {lbl:'c)', title:'nadir swath', col:0, row:1, kind:'speed', stats:c_stats,
   thick:[c_c1,c_c3,c_c5,c_k1,c_k2,c_k3,c_k4,c_k5,c_k6], thin:[c_c2,c_c2b,c_c4], dots:c_dots, tdots:c_tdots},
  {lbl:'d)', title:'nadir swath', col:1, row:1, kind:'dir', stats:d_stats,
   thick:[d_outU,d_in3,d_l5a,d_l5b,d_l3b,d_l3c,d_in3d,d_outL,d_tlK1,d_tlK2,d_tlK3,d_tlK4,d_brK1,d_brK2,d_blK],
   thin:[d_thU1,d_thU2,d_thL1,d_thL2,d_t4a,d_t4b,d_t4c,d_tlT1,d_brT1,d_brT2,d_blT], dots:d_dots, tdots:d_tdots},
  {lbl:'e)', title:'outer swath', col:0, row:2, kind:'speed', stats:e_stats,
   thick:[e_c1,e_c3,e_c5,e_k1,e_k2,e_k3,e_k4,e_k5], thin:[e_c2,e_c4,e_c6,e_t1,e_t2], dots:e_dots, tdots:e_tdots},
  {lbl:'f)', title:'outer swath', col:1, row:2, kind:'dir', stats:f_stats,
   thick:[f_outU,f_in3,f_in3b,f_outL,f_l5a,f_l5b,f_l5c,f_l5d,f_l5e,f_tlK,f_brK1,f_brK2],
   thin:[f_thU1,f_thU2,f_thL1,f_thL2,f_t4a,f_t4b,f_tlT1,f_tlT2,f_brT1,f_brT2], dots:f_dots, tdots:f_tdots}
];

// ---------- layout ----------
const COLS = [
  {L:82, R:458, cl:0, cw:500, ytx:21.7, lbx:10, stx:32},
  {L:565, R:941, cl:476, cw:492, ytx:494, lbx:483, stx:515}
];
const ROWS = [
  {T:78, B:439, xlab:20, xtit:43, tb:70, lb:30, sb:536, slh:24.2},
  {T:688, B:1050, xlab:19.5, xtit:45.5, tb:680, lb:640, sb:1142.8, slh:24.3},
  {T:1298, B:1598, xlab:18, xtit:43, tb:1289.7, lb:1248.3, sb:1685, slh:24.4}
];
const TOPSP = 40, XH = 70;

function baseTop(base, size, lh) { return base - ((lh - 1.107 * size) / 2 + 0.891 * size); }

function mk(o) {
  return {
    type: 'linear', position: o.pos, min: 0, max: o.max, bounds: 'data', weight: o.weight || 0,
    afterBuildTicks: s => { s.ticks = o.ticks.map(v => ({ value: v })); },
    afterFit: s => {
      if (s.isHorizontal()) s.height = o.size || 0; else s.width = o.size || 0;
      s.paddingLeft = 0; s.paddingRight = 0; s.paddingTop = 0; s.paddingBottom = 0;
    },
    ticks: {
      display: !!o.labels, autoSkip: false, maxRotation: 0, minRotation: 0, color: '#000',
      padding: o.pad || 0, font: { family: FONT, size: 26, lineHeight: 1.2 },
      callback: (v, i) => (o.labels ? o.labels[i] : '')
    },
    grid: {
      display: true, drawOnChartArea: false, drawTicks: true, tickLength: -o.len,
      color: '#000', lineWidth: 1.2, tickWidth: 1.2,
      tickColor: ctx => (o.marks && !o.marks[ctx.index]) ? 'rgba(0,0,0,0)' : '#000'
    },
    border: { display: true, color: '#000', width: 1.3 },
    title: o.title ? { display: true, text: o.title, color: '#000', align: 'center',
      padding: o.tpad, font: { family: FONT, size: 26, lineHeight: 1.2 } } : { display: false }
  };
}

function lineDS(pts, w) {
  return { data: pts.map(q => ({ x: q[0], y: q[1] })), showLine: true, borderColor: '#000',
    backgroundColor: '#000', borderWidth: w, pointRadius: 0, pointHoverRadius: 0, fill: false,
    tension: 0, borderJoinStyle: 'round', borderCapStyle: 'round', xAxisID: 'x', yAxisID: 'y' };
}
function dotDS(pts, r) {
  return { data: pts.map(q => ({ x: q[0], y: q[1] })), showLine: false, pointRadius: r,
    pointHoverRadius: r, pointBackgroundColor: '#000', pointBorderWidth: 0, pointStyle: 'circle',
    xAxisID: 'x', yAxisID: 'y' };
}

function addDiv(cls, text, left, top, width) {
  const d = document.createElement('div');
  d.className = cls; d.textContent = text;
  d.style.left = left + 'px'; d.style.top = top + 'px';
  if (width) d.style.width = width + 'px';
  document.body.appendChild(d);
  return d;
}

function build(p) {
  const c = COLS[p.col], r = ROWS[p.row];
  const speed = p.kind === 'speed';
  const max = speed ? 23.5 : 355;
  const len = speed ? 9 : 9.5;
  addDiv('plbl', p.lbl, c.lbx, baseTop(r.lb, 30, 30));
  addDiv('ptitle', p.title, c.L, baseTop(r.tb, 31, 31), c.R - c.L);
  const st = addDiv('stats', p.stats.join('\n'), c.stx, baseTop(r.sb, 20.3, r.slh));
  st.style.lineHeight = r.slh + 'px';
  const cv = document.createElement('canvas');
  const H = TOPSP + (r.B - r.T) + XH;
  cv.width = c.cw; cv.height = H;
  cv.style.left = c.cl + 'px'; cv.style.top = (r.T - TOPSP) + 'px';
  cv.style.width = c.cw + 'px'; cv.style.height = H + 'px';
  document.body.appendChild(cv);

  const scales = {};
  scales.x = mk({ pos: 'bottom', max, weight: 10, size: XH, len,
    ticks: speed ? speedMajor : dirXTicks, labels: speed ? speedXLabels : dirXLabels,
    pad: r.xlab - 15.6 + len,
    title: speed ? 'Wind speed (m/s)  \u2212 ECMWF' : 'Wind dir (deg)  \u2212 ECMWF',
    tpad: { top: 0, bottom: XH - r.xtit - 15.6 } });
  scales.y = mk({ pos: 'left', max, weight: 10, size: c.L - c.cl, len,
    ticks: speed ? speedYTicks : dirYTicks, labels: speed ? speedYLabels : dirYLabels,
    marks: speed ? speedYMarks : dirYMarks, pad: len + (speed ? 4.5 : 9),
    title: speed ? 'Wind speed (m/s)  \u2212 KNMI' : 'Wind dir (deg)  \u2212 KNMI',
    tpad: { top: c.ytx - c.cl - 15.6, bottom: 0 } });
  scales.xT = mk({ pos: 'top', max, len, ticks: speed ? speedMajor : dirMarks });
  scales.yR = mk({ pos: 'right', max, len, ticks: speed ? speedMajor : dirMarks });
  if (speed) {
    scales.xm = mk({ pos: 'bottom', max, len: 4.5, ticks: speedMinor });
    scales.ym = mk({ pos: 'left', max, len: 4.5, ticks: speedMinor });
    scales.xTm = mk({ pos: 'top', max, len: 4.5, ticks: speedMinor });
    scales.yRm = mk({ pos: 'right', max, len: 4.5, ticks: speedMinor });
  }

  const ds = [];
  p.thick.forEach(l => ds.push(lineDS(l, 2.8)));
  p.thin.forEach(l => ds.push(lineDS(l, 1)));
  ds.push(lineDS(speed ? speedDiag : dirDiag, 1));
  if (p.dots && p.dots.length) ds.push(dotDS(p.dots, 2.4));
  if (p.tdots && p.tdots.length) ds.push(dotDS(p.tdots, 1.1));

  new Chart(cv, {
    type: 'scatter',
    data: { datasets: ds },
    options: {
      responsive: false, animation: false, devicePixelRatio: 1, events: [],
      layout: { padding: { top: TOPSP, right: c.cl + c.cw - c.R, left: 0, bottom: 0 } },
      plugins: { legend: { display: false }, tooltip: { enabled: false }, title: { display: false } },
      scales
    }
  });
}

Chart.defaults.font.family = FONT;
panels.forEach(build);
</script>
</body></html>
